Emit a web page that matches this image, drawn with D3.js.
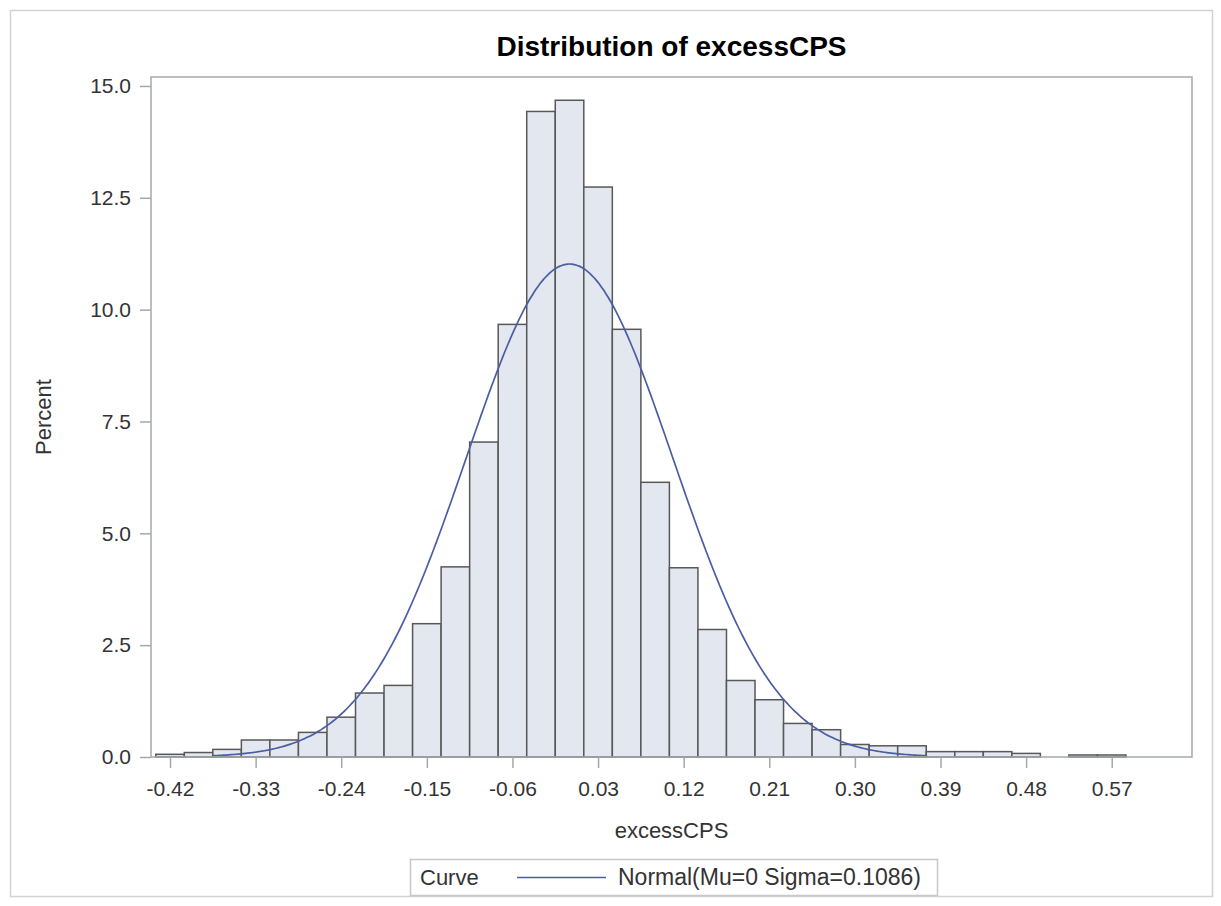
<!DOCTYPE html>
<html><head><meta charset="utf-8">
<script src="https://cdn.jsdelivr.net/npm/d3@7"></script>
<style>
body{margin:0;background:#fff}
text{font-family:"Liberation Sans",Arial,sans-serif;fill:#333}
</style>
</head><body>
<svg id="chart" width="1221" height="906"></svg>
<script>
// ---- data ----
const binCenters = [-0.42,-0.39,-0.36,-0.33,-0.30,-0.27,-0.24,-0.21,-0.18,-0.15,-0.12,-0.09,-0.06,-0.03,0.00,
  0.03,0.06,0.09,0.12,0.15,0.18,0.21,0.24,0.27,0.30,0.33,0.36,0.39,0.42,0.45,0.48,0.51,0.54,0.57];
const percents = [0.06,0.10,0.17,0.38,0.38,0.55,0.89,1.43,1.60,2.98,4.25,7.04,9.67,14.43,14.68,
  12.74,9.56,6.14,4.23,2.85,1.71,1.28,0.75,0.61,0.28,0.25,0.25,0.12,0.12,0.12,0.08,0,0.045,0.045];
const xTicks = [-0.42,-0.33,-0.24,-0.15,-0.06,0.03,0.12,0.21,0.30,0.39,0.48,0.57];
const yTicks = [0,2.5,5,7.5,10,12.5,15];
const binWidth = 0.03;
const curveMu = 0, curveSigma = 0.1086;
const curveRange = [-0.376, 0.376];
const titleText = "Distribution of excessCPS";
const xLabel = "excessCPS", yLabel = "Percent";
const legendTitle = "Curve", legendLabel = "Normal(Mu=0 Sigma=0.1086)";

// ---- layout ----
const L = 151, R = 1192, T = 77, B = 757;
const svg = d3.select("#chart");
const x = d3.scaleLinear().domain([-0.44, 0.6544]).range([L, R]);
const y = d3.scaleLinear().domain([0, 15.2]).range([B, T]);
const frameColor = "#a4a8ad";

// outer border
svg.append("rect").attr("x",10.5).attr("y",10.5).attr("width",1202).attr("height",886)
  .attr("fill","none").attr("stroke","#d2d2d2").attr("stroke-width",1.5);

// bars
const bins = binCenters.map((c,i)=>({c, v: percents[i]})).filter(d=>d.v>0);
svg.append("g").selectAll("rect").data(bins).join("rect")
  .attr("x", d=>x(d.c-binWidth/2))
  .attr("width", d=>x(d.c+binWidth/2)-x(d.c-binWidth/2))
  .attr("y", d=>y(d.v))
  .attr("height", d=>y(0)-y(d.v))
  .attr("fill","#e2e7f0").attr("stroke","#585858").attr("stroke-width",1.5);

// normal curve
const pdf = v => 100*binWidth/(curveSigma*Math.sqrt(2*Math.PI))*Math.exp(-0.5*((v-curveMu)/curveSigma)**2);
const pts = d3.range(curveRange[0], curveRange[1]+1e-9, (curveRange[1]-curveRange[0])/300).map(v=>[v,pdf(v)]);
svg.append("path").datum(pts)
  .attr("d", d3.line().x(d=>x(d[0])).y(d=>y(d[1])).curve(d3.curveBasis))
  .attr("fill","none").attr("stroke","#4b5ea3").attr("stroke-width",1.7);

// frame
svg.append("rect").attr("x",L).attr("y",T).attr("width",R-L).attr("height",B-T)
  .attr("fill","none").attr("stroke",frameColor).attr("stroke-width",1.5);

// axes
const yAxis = svg.append("g").attr("transform",`translate(${L},0)`)
  .call(d3.axisLeft(y).tickValues(yTicks).tickFormat(d=>d.toFixed(1)).tickSize(11).tickPadding(9));
const xAxis = svg.append("g").attr("transform",`translate(0,${B})`)
  .call(d3.axisBottom(x).tickValues(xTicks).tickFormat(d=>d.toFixed(2)).tickSize(11).tickPadding(13));
[yAxis,xAxis].forEach(g=>{
  g.select(".domain").remove();
  g.selectAll(".tick line").attr("stroke",frameColor).attr("stroke-width",1.5);
  g.selectAll(".tick text").attr("font-size",21).attr("font-family","Liberation Sans, Arial, sans-serif").attr("fill","#333");
});

// title and labels
svg.append("text").attr("x",(L+R)/2).attr("y",56).attr("text-anchor","middle")
  .attr("font-size",28).attr("font-weight","bold").style("fill","#000").text(titleText);
svg.append("text").attr("x",(L+R)/2).attr("y",838).attr("text-anchor","middle")
  .attr("font-size",22).text(xLabel);
svg.append("text").attr("transform",`translate(51,${(T+B)/2}) rotate(-90)`).attr("text-anchor","middle")
  .attr("font-size",22).text(yLabel);

// legend
const lg = svg.append("g");
lg.append("rect").attr("x",410.5).attr("y",859.5).attr("width",527).attr("height",36)
  .attr("fill","none").attr("stroke","#c8c8c8").attr("stroke-width",1.5);
lg.append("text").attr("x",420).attr("y",885).attr("font-size",22).text(legendTitle);
lg.append("line").attr("x1",517).attr("x2",606).attr("y1",877.5).attr("y2",877.5)
  .attr("stroke","#4b5ea3").attr("stroke-width",1.7);
lg.append("text").attr("x",618).attr("y",885).attr("font-size",23).text(legendLabel);
</script>
</body></html>
